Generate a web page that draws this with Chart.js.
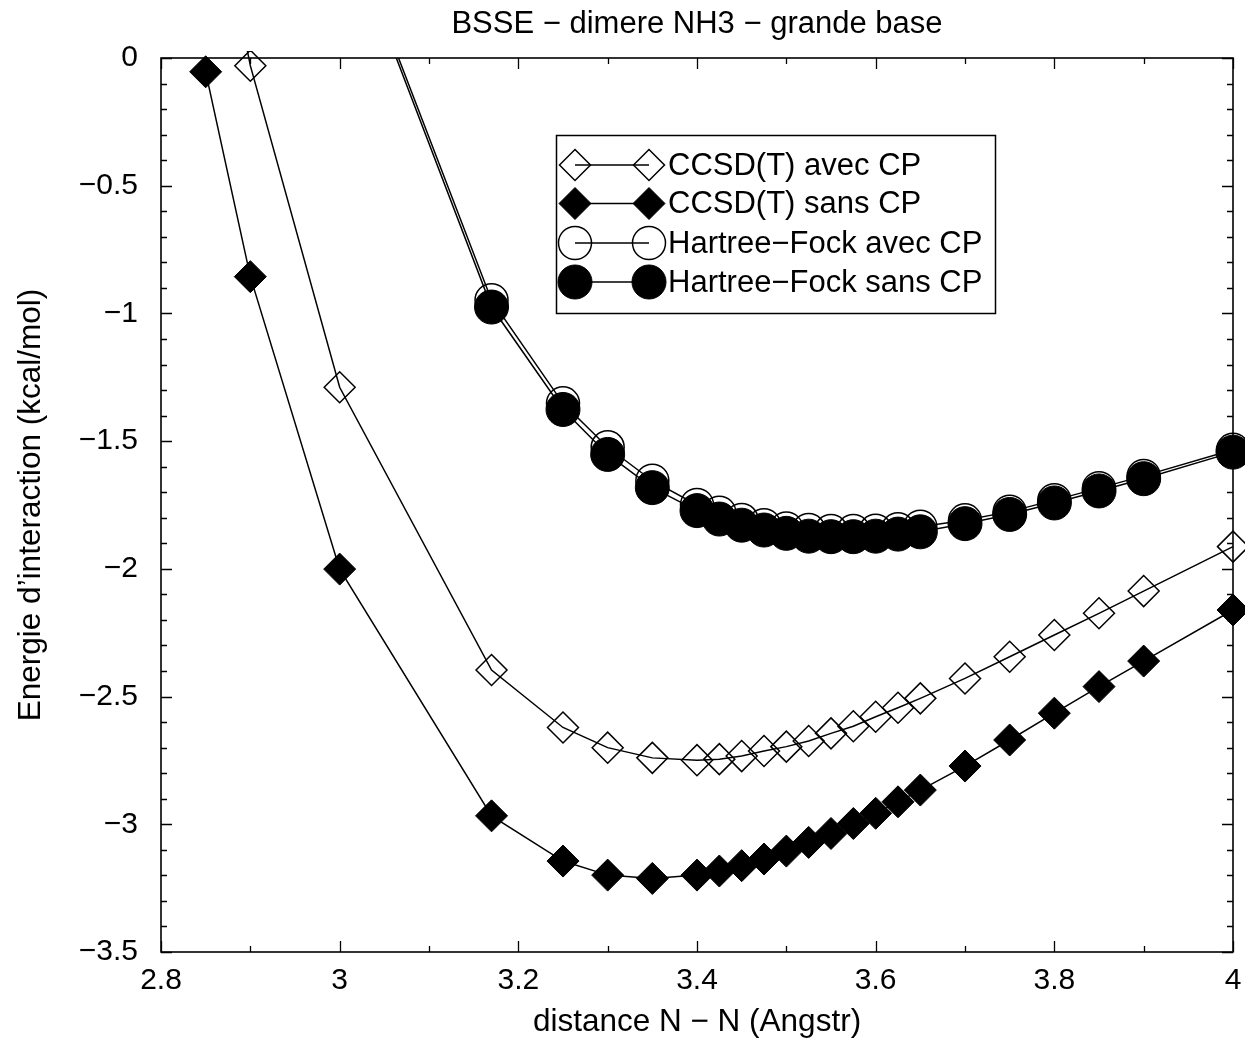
<!DOCTYPE html>
<html>
<head>
<meta charset="utf-8">
<script src="https://cdn.jsdelivr.net/npm/chart.js@4.4.0/dist/chart.umd.min.js"></script>
<style>
html,body{margin:0;padding:0;background:#fff;}
#wrap{position:relative;width:1245px;height:1041px;}
</style>
</head>
<body>
<div id="wrap"><canvas id="c" width="1245" height="1041"></canvas></div>
<script>
const chartTitle = 'BSSE − dimere NH3 − grande base';
const xAxisTitle = 'distance N − N (Angstr)';
const yAxisTitle = 'Energie d’interaction (kcal/mol)';
const seriesNames = ['CCSD(T) avec CP', 'CCSD(T) sans CP', 'Hartree−Fock avec CP', 'Hartree−Fock sans CP'];

const distCCSD = [2.85, 2.9, 3.0, 3.17, 3.25, 3.3, 3.35, 3.4, 3.425, 3.45, 3.475, 3.5, 3.525, 3.55, 3.575, 3.6, 3.625, 3.65, 3.7, 3.75, 3.8, 3.85, 3.9, 4.0];
const ccsdAvecCP = [0.85, -0.03, -1.289, -2.396, -2.621, -2.700, -2.740, -2.749, -2.745, -2.733, -2.713, -2.696, -2.674, -2.644, -2.616, -2.579, -2.544, -2.507, -2.429, -2.344, -2.259, -2.174, -2.087, -1.913];
const ccsdSansCP = [-0.054, -0.856, -2.001, -2.967, -3.144, -3.199, -3.212, -3.199, -3.183, -3.162, -3.136, -3.105, -3.071, -3.036, -2.997, -2.957, -2.912, -2.866, -2.772, -2.670, -2.565, -2.461, -2.361, -2.161];

const distHF = [3.0, 3.17, 3.25, 3.3, 3.35, 3.4, 3.425, 3.45, 3.475, 3.5, 3.525, 3.55, 3.575, 3.6, 3.625, 3.65, 3.7, 3.75, 3.8, 3.85, 3.9, 4.0];
const hfAvecCP = [0.60, -0.948, -1.352, -1.524, -1.655, -1.750, -1.780, -1.809, -1.829, -1.842, -1.848, -1.852, -1.852, -1.851, -1.845, -1.835, -1.810, -1.776, -1.731, -1.684, -1.636, -1.534];
const hfSansCP = [0.58, -0.975, -1.376, -1.552, -1.682, -1.772, -1.805, -1.829, -1.848, -1.861, -1.872, -1.874, -1.874, -1.872, -1.864, -1.855, -1.823, -1.787, -1.742, -1.695, -1.647, -1.543];

const xTickLabels = ['2.8', '3', '3.2', '3.4', '3.6', '3.8', '4'];
const yTickLabels = ['−3.5', '−3', '−2.5', '−2', '−1.5', '−1', '−0.5', '0'];

const FONT = '"Liberation Sans", Arial, Helvetica, sans-serif';

function pts(xs, ys) { return xs.map((x, i) => ({x: x, y: ys[i]})); }

const markerStyles = [
  {pointStyle: 'rectRot', radius: 15.5, fill: 'rgba(0,0,0,0)', border: 1.5},
  {pointStyle: 'rectRot', radius: 16, fill: '#000', border: 1},
  {pointStyle: 'circle', radius: 16.5, fill: 'rgba(0,0,0,0)', border: 1.5},
  {pointStyle: 'circle', radius: 17, fill: '#000', border: 1}
];

function makeDs(i, data, extra) {
  const m = markerStyles[i];
  return Object.assign({
    label: seriesNames[i],
    data: data,
    borderColor: '#000',
    borderWidth: 1.5,
    tension: 0,
    pointStyle: m.pointStyle,
    pointRadius: m.radius,
    pointHoverRadius: m.radius,
    pointBackgroundColor: m.fill,
    pointBorderColor: '#000',
    pointBorderWidth: m.border,
    fill: false
  }, extra);
}

const titlePlugin = {
  id: 'topTitle',
  afterDraw(chart) {
    const {ctx, chartArea: a} = chart;
    ctx.save();
    ctx.fillStyle = '#000';
    ctx.font = '31px ' + FONT;
    ctx.textAlign = 'center';
    ctx.textBaseline = 'middle';
    ctx.fillText(chartTitle, (a.left + a.right) / 2, 24);
    ctx.restore();
  }
};

const framePlugin = {
  id: 'frameTicks',
  afterDatasetsDraw(chart) {
    const {ctx, chartArea: a, scales} = chart;
    const xs = scales.x, ys = scales.y;
    ctx.save();
    ctx.strokeStyle = '#000';
    ctx.lineWidth = 1.6;
    ctx.strokeRect(a.left, a.top, a.right - a.left, a.bottom - a.top);
    ctx.lineWidth = 1.3;
    const major = 11, minor = 6;
    const xt = xs.ticks.map(t => t.value);
    const yt = ys.ticks.map(t => t.value);
    ctx.beginPath();
    function xTick(v, len) {
      const p = Math.round(xs.getPixelForValue(v)) + 0.5;
      ctx.moveTo(p, a.bottom); ctx.lineTo(p, a.bottom - len);
      ctx.moveTo(p, a.top); ctx.lineTo(p, a.top + len);
    }
    function yTick(v, len) {
      const p = Math.round(ys.getPixelForValue(v)) + 0.5;
      ctx.moveTo(a.left, p); ctx.lineTo(a.left + len, p);
      ctx.moveTo(a.right, p); ctx.lineTo(a.right - len, p);
    }
    xt.forEach((v, i) => {
      xTick(v, major);
      if (i < xt.length - 1) xTick((v + xt[i + 1]) / 2, minor);
    });
    yt.forEach((v, i) => {
      yTick(v, major);
      if (i < yt.length - 1) {
        for (let k = 1; k < 5; k++) yTick(v + (yt[i + 1] - v) * k / 5, minor);
      }
    });
    ctx.stroke();
    ctx.restore();
  }
};

const legendPlugin = {
  id: 'gpLegend',
  afterDatasetsDraw(chart) {
    const ctx = chart.ctx;
    const box = {left: 556, top: 135, right: 995, bottom: 313};
    const rows = [165, 203.5, 243, 282];
    const mx1 = 575, mx2 = 649, tx = 668;
    ctx.save();
    ctx.fillStyle = '#fff';
    ctx.fillRect(box.left, box.top, box.right - box.left, box.bottom - box.top);
    ctx.strokeStyle = '#000';
    ctx.lineWidth = 1.5;
    ctx.strokeRect(box.left + 0.5, box.top + 0.5, box.right - box.left, box.bottom - box.top);
    rows.forEach((ry, i) => {
      const m = markerStyles[i];
      ctx.lineWidth = 1.5;
      ctx.beginPath();
      ctx.moveTo(mx1, ry); ctx.lineTo(mx2, ry);
      ctx.stroke();
      [mx1, mx2].forEach(mx => {
        ctx.beginPath();
        if (m.pointStyle === 'circle') {
          ctx.arc(mx, ry, m.radius, 0, Math.PI * 2);
        } else {
          ctx.moveTo(mx - m.radius, ry);
          ctx.lineTo(mx, ry - m.radius);
          ctx.lineTo(mx + m.radius, ry);
          ctx.lineTo(mx, ry + m.radius);
          ctx.closePath();
        }
        ctx.fillStyle = m.fill;
        ctx.fill();
        ctx.lineWidth = m.border;
        ctx.stroke();
      });
      ctx.fillStyle = '#000';
      ctx.font = '31px ' + FONT;
      ctx.textAlign = 'left';
      ctx.textBaseline = 'middle';
      ctx.fillText(seriesNames[i], tx, ry + 1);
    });
    ctx.restore();
  }
};

new Chart(document.getElementById('c'), {
  type: 'line',
  data: {
    datasets: [
      makeDs(3, pts(distHF, hfSansCP), {clip: {left: false, right: false, top: 0, bottom: false}}),
      makeDs(2, pts(distHF, hfAvecCP), {clip: {left: false, right: false, top: 0, bottom: false}}),
      makeDs(1, pts(distCCSD, ccsdSansCP), {clip: false}),
      makeDs(0, pts(distCCSD, ccsdAvecCP), {clip: {left: false, right: false, top: 7, bottom: false}})
    ]
  },
  options: {
    responsive: false,
    animation: false,
    devicePixelRatio: 1,
    layout: {autoPadding: false, padding: {top: 58, right: 12, bottom: 0, left: 0}},
    plugins: {
      legend: {display: false},
      title: {display: false},
      tooltip: {enabled: false}
    },
    events: [],
    scales: {
      x: {
        type: 'linear',
        min: 2.8,
        max: 4.0,
        grid: {display: false},
        border: {display: false},
        ticks: {
          stepSize: 0.2,
          padding: 3,
          color: '#000',
          font: {family: FONT, size: 30},
          maxRotation: 0,
          callback: (v, i) => xTickLabels[i]
        },
        title: {
          display: true,
          text: xAxisTitle,
          color: '#000',
          font: {family: FONT, size: 31.5},
          padding: {top: 0, bottom: 0}
        },
        afterFit: s => { s.height = 89; s.paddingLeft = 0; s.paddingRight = 0; }
      },
      y: {
        type: 'linear',
        min: -3.5,
        max: 0,
        grid: {display: false},
        border: {display: false},
        ticks: {
          stepSize: 0.5,
          padding: 15,
          color: '#000',
          font: {family: FONT, size: 30},
          callback: (v, i) => yTickLabels[i]
        },
        title: {
          display: true,
          text: yAxisTitle,
          color: '#000',
          font: {family: FONT, size: 31.5},
          padding: {top: 12, bottom: 0}
        },
        afterFit: s => { s.width = 161; s.paddingTop = 0; s.paddingBottom = 0; }
      }
    }
  },
  plugins: [framePlugin, legendPlugin, titlePlugin]
});
</script>
</body>
</html>
